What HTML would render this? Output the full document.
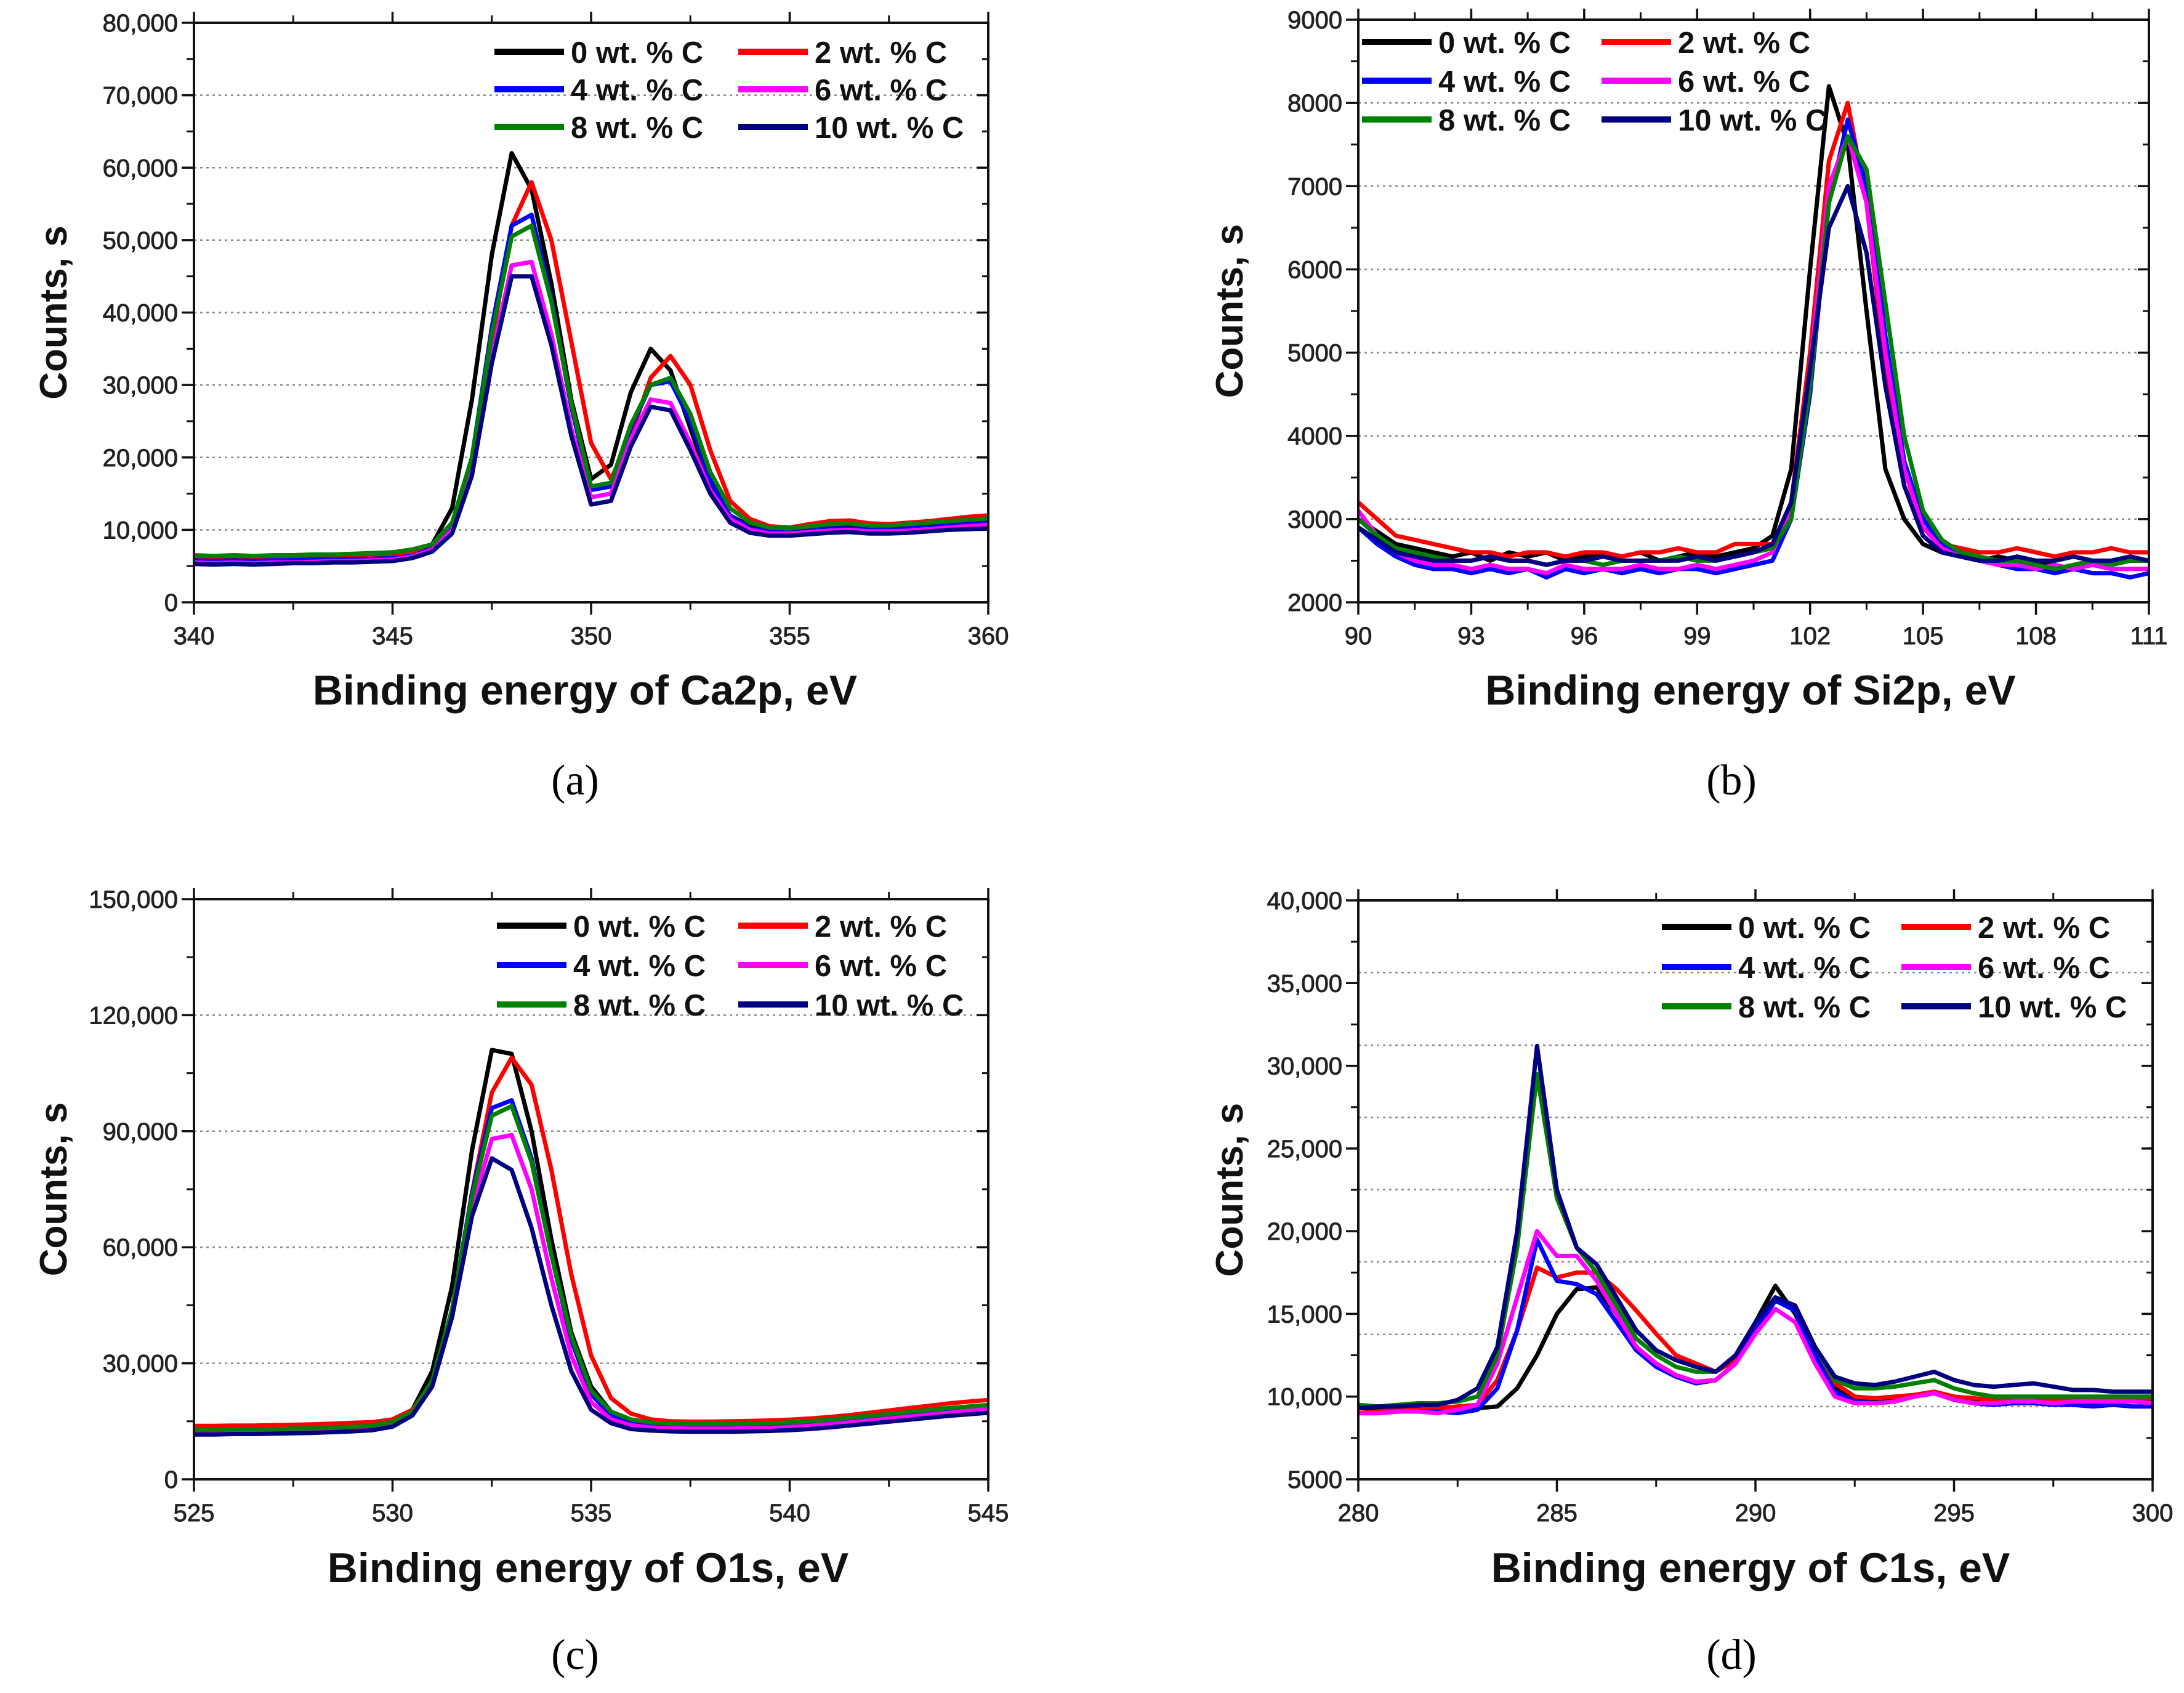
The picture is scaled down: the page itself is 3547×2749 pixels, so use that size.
<!DOCTYPE html>
<html><head><meta charset="utf-8">
<style>
html,body{margin:0;padding:0;background:#fff;}
svg{display:block;}
text{font-family:"Liberation Sans",Arial,sans-serif;}
.tick{font-size:40px;fill:#222;stroke:#222;stroke-width:0.9px;}
.ttl{font-size:68px;font-weight:bold;fill:#111;}
.ytl{font-size:62px;font-weight:bold;fill:#111;}
.leg{font-size:49px;font-weight:bold;fill:#111;}
.cap{font-family:"Liberation Serif",serif;font-size:70px;fill:#000;}
</style></head>
<body>
<svg id="fig" xmlns="http://www.w3.org/2000/svg" width="3547" height="2749" viewBox="0 0 3547 2749"></svg>
<script>
// ---------- DATA (counts in thousands) ----------
const seriesNames = ["0 wt. % C","2 wt. % C","4 wt. % C","6 wt. % C","8 wt. % C","10 wt. % C"];
const seriesKeys = ["c0","c2","c4","c6","c8","c10"];

const energyA = [340,340.5,341,341.5,342,342.5,343,343.5,344,344.5,345,345.5,346,346.5,347,347.5,348,348.5,349,349.5,350,350.5,351,351.5,352,352.5,353,353.5,354,354.5,355,355.5,356,356.5,357,357.5,358,358.5,359,359.5,360];
const caA_c0 = [5.6,5.5,5.6,5.5,5.6,5.7,5.6,5.8,5.9,6.0,6.1,6.6,8.0,13,28,48,62,57,44,28,17,19,29,35,32,24,16,12,10.5,10,10,10.2,10.4,10.5,10.3,10.4,10.5,10.7,10.9,11,11.2];
const caA_c2 = [6.2,6.1,6.1,6.0,6.1,6.1,6.2,6.3,6.3,6.4,6.5,6.8,7.5,10,19,36,52,58,50,36,22,17,23,31,34,30,21,14,11.5,10.5,10.3,10.8,11.2,11.3,10.9,10.8,11.0,11.2,11.5,11.8,12.0];
const caA_c4 = [5.8,5.7,5.8,5.7,5.8,5.8,5.9,5.9,6.0,6.0,6.1,6.4,7.5,10.5,20,38,52,53.5,42,27,15.5,16,24,30,30.5,25,17,12,10.2,9.8,9.8,10.0,10.2,10.2,10.1,10.1,10.2,10.4,10.6,10.8,11.0];
const caA_c6 = [5.5,5.4,5.5,5.4,5.5,5.5,5.6,5.7,5.7,5.8,5.9,6.3,7.3,10,18.5,34,46.5,47,37,24,14.5,15,22.5,28,27.5,22,15.5,11.5,10,9.5,9.5,9.7,9.9,10.0,9.8,9.8,9.9,10.1,10.3,10.5,10.7];
const caA_c8 = [6.5,6.4,6.5,6.4,6.5,6.5,6.6,6.6,6.7,6.8,6.9,7.3,8.0,11,20,37,50.5,52,41.5,27.5,16,16.5,24.5,30,31,26,18,13,11,10.3,10.2,10.5,10.8,10.9,10.6,10.6,10.8,11.0,11.2,11.4,11.6];
const caA_c10 = [5.3,5.2,5.3,5.2,5.3,5.4,5.4,5.5,5.5,5.6,5.7,6.1,7.0,9.5,17.5,33,45,45,35.5,23,13.5,14,21.5,27,26.5,21,15,11,9.6,9.2,9.2,9.4,9.6,9.7,9.5,9.5,9.6,9.8,10.0,10.1,10.2];

const energyB = [90,90.5,91,91.5,92,92.5,93,93.5,94,94.5,95,95.5,96,96.5,97,97.5,98,98.5,99,99.5,100,100.5,101,101.5,102,102.5,103,103.5,104,104.5,105,105.5,106,106.5,107,107.5,108,108.5,109,109.5,110,110.5,111];
const siB_c0 = [3.0,2.85,2.7,2.65,2.6,2.55,2.6,2.5,2.6,2.55,2.6,2.5,2.55,2.6,2.55,2.6,2.5,2.55,2.6,2.55,2.6,2.65,2.8,3.6,6.0,8.2,7.5,5.5,3.6,3.0,2.7,2.6,2.55,2.5,2.55,2.5,2.45,2.5,2.55,2.5,2.45,2.5,2.5];
const siB_c2 = [3.2,3.0,2.8,2.75,2.7,2.65,2.6,2.6,2.55,2.6,2.6,2.55,2.6,2.6,2.55,2.6,2.6,2.65,2.6,2.6,2.7,2.7,2.7,3.2,5.0,7.3,8.0,6.8,4.8,3.4,2.9,2.7,2.65,2.6,2.6,2.65,2.6,2.55,2.6,2.6,2.65,2.6,2.6];
const siB_c4 = [2.9,2.7,2.55,2.45,2.4,2.4,2.35,2.4,2.35,2.4,2.3,2.4,2.35,2.4,2.35,2.4,2.35,2.4,2.4,2.35,2.4,2.45,2.5,3.0,4.5,6.8,7.8,7.0,5.2,3.7,3.0,2.7,2.55,2.5,2.45,2.4,2.4,2.35,2.4,2.35,2.35,2.3,2.35];
const siB_c6 = [3.1,2.8,2.6,2.5,2.45,2.45,2.4,2.45,2.4,2.4,2.35,2.45,2.4,2.4,2.4,2.45,2.4,2.4,2.45,2.4,2.45,2.5,2.6,3.1,4.8,7.0,7.6,6.8,5.0,3.6,2.9,2.65,2.55,2.5,2.45,2.45,2.4,2.45,2.4,2.45,2.4,2.4,2.4];
const siB_c8 = [3.0,2.8,2.65,2.6,2.55,2.5,2.5,2.55,2.5,2.5,2.45,2.5,2.5,2.45,2.5,2.5,2.5,2.55,2.5,2.5,2.55,2.6,2.65,3.0,4.6,6.8,7.6,7.2,5.6,4.0,3.1,2.75,2.6,2.55,2.5,2.5,2.45,2.4,2.45,2.5,2.45,2.5,2.5];
const siB_c10 = [2.9,2.75,2.6,2.55,2.5,2.5,2.5,2.55,2.5,2.5,2.45,2.5,2.5,2.55,2.5,2.5,2.5,2.5,2.55,2.5,2.55,2.6,2.7,3.2,4.8,6.5,7.0,6.2,4.6,3.4,2.8,2.6,2.55,2.5,2.5,2.55,2.5,2.5,2.55,2.5,2.5,2.55,2.5];

const energyC = [525,525.5,526,526.5,527,527.5,528,528.5,529,529.5,530,530.5,531,531.5,532,532.5,533,533.5,534,534.5,535,535.5,536,536.5,537,537.5,538,538.5,539,539.5,540,540.5,541,541.5,542,542.5,543,543.5,544,544.5,545];
const oC_c0 = [13.0,13.0,13.1,13.1,13.2,13.3,13.4,13.6,13.8,14.0,14.8,18,28,50,85,111,110,90,62,38,24,17.5,15,14.2,14,13.8,13.8,13.8,13.9,14,14.2,14.5,14.9,15.3,15.8,16.3,16.8,17.3,17.8,18.2,18.5];
const oC_c2 = [13.8,13.8,13.9,13.9,14.0,14.1,14.2,14.4,14.6,14.8,15.5,18,25,43,74,100,109,102,80,53,32,21,17,15.5,15,14.9,14.9,15,15.1,15.2,15.4,15.7,16.1,16.6,17.2,17.8,18.4,19,19.6,20.1,20.5];
const oC_c4 = [12.2,12.2,12.3,12.3,12.4,12.5,12.6,12.8,13,13.3,14.2,17,25,44,74,96,98,83,58,36,22,16.5,14.5,13.8,13.5,13.4,13.4,13.4,13.5,13.6,13.8,14.1,14.5,15,15.5,16,16.5,17,17.5,18,18.5];
const oC_c6 = [12.0,12.0,12.1,12.1,12.2,12.3,12.4,12.6,12.8,13.1,14,16.8,24,42,70,88,89,75,52,32,20,15.5,14,13.4,13.2,13.1,13.1,13.1,13.2,13.3,13.5,13.8,14.2,14.7,15.2,15.7,16.2,16.7,17.2,17.7,18.2];
const oC_c8 = [12.8,12.8,12.9,12.9,13,13.1,13.2,13.4,13.6,13.9,14.8,17.5,25.5,44,73,94,96.5,82,58,37,23,17.5,15.5,14.7,14.4,14.3,14.3,14.3,14.4,14.5,14.7,15,15.4,15.9,16.4,16.9,17.4,17.9,18.4,18.8,19.2];
const oC_c10 = [11.6,11.6,11.7,11.7,11.8,11.9,12,12.2,12.4,12.7,13.6,16.5,24,42,68,83,80,65,45,28,18,14.5,13,12.6,12.4,12.3,12.3,12.3,12.4,12.5,12.7,13,13.4,13.9,14.4,14.9,15.4,15.9,16.4,16.8,17.2];

const energyD = [280,280.5,281,281.5,282,282.5,283,283.5,284,284.5,285,285.5,286,286.5,287,287.5,288,288.5,289,289.5,290,290.5,291,291.5,292,292.5,293,293.5,294,294.5,295,295.5,296,296.5,297,297.5,298,298.5,299,299.5,300];
const cD_c0 = [9.3,9.3,9.4,9.3,9.4,9.3,9.3,9.4,10.5,12.5,15,16.5,16.6,15,13,12,11.3,10.8,11,12,14.5,16.7,15,12.5,10.5,9.8,9.7,9.8,10,10.2,9.9,9.7,9.6,9.7,9.8,9.7,9.7,9.6,9.7,9.8,9.8];
const cD_c2 = [9.0,9.1,9.2,9.2,9.3,9.4,9.5,11,14,17.8,17.2,17.5,17.5,16.5,15.2,13.8,12.5,12,11.5,12.2,14,15.8,15.5,13,10.8,10,9.9,10,10.1,10.3,10,9.9,9.8,9.9,9.9,9.8,9.9,9.9,9.9,9.9,9.9];
const cD_c4 = [9.0,9.0,9.1,9.1,9.1,9.0,9.2,10.5,14,19.5,17,16.8,16.2,14.5,12.8,11.8,11.2,10.8,11,12,14,15.8,15.2,12.5,10.3,9.7,9.6,9.7,10,10.2,9.8,9.6,9.5,9.6,9.6,9.5,9.5,9.4,9.5,9.4,9.4];
const cD_c6 = [9.0,9.0,9.1,9.1,9.0,9.2,9.5,12,16,20,18.5,18.5,17,15,13,12,11.3,10.9,11,12,13.8,15.3,14.5,12,10,9.6,9.6,9.7,10,10.2,9.8,9.6,9.6,9.7,9.7,9.6,9.7,9.7,9.7,9.7,9.6];
const cD_c8 = [9.5,9.4,9.5,9.6,9.6,9.7,10,12.5,19,29.5,22,19,17.5,15.5,13.5,12.5,11.8,11.5,11.5,12.5,14.5,16,15.5,13,11,10.5,10.5,10.6,10.8,11,10.5,10.2,10,10,10,10,10,10,10,10,10];
const cD_c10 = [9.3,9.4,9.4,9.5,9.5,9.8,10.5,13,20,31.2,22.5,19,18,16,14,12.8,12.2,11.8,11.5,12.5,14.5,16,15.5,13,11.2,10.8,10.7,10.9,11.2,11.5,11,10.7,10.6,10.7,10.8,10.6,10.4,10.4,10.3,10.3,10.3];

// tick values & labels
const xTicksA = [340,345,350,355,360];
const yTicksA = [0,10000,20000,30000,40000,50000,60000,70000,80000];
const yLabelsA = ["0","10,000","20,000","30,000","40,000","50,000","60,000","70,000","80,000"];
const gridA = [10000,20000,30000,40000,50000,60000,70000];
const xTicksB = [90,93,96,99,102,105,108,111];
const yTicksB = [2000,3000,4000,5000,6000,7000,8000,9000];
const yLabelsB = ["2000","3000","4000","5000","6000","7000","8000","9000"];
const gridB = [3000,4000,5000,6000,7000,8000];
const xTicksC = [525,530,535,540,545];
const yTicksC = [0,30000,60000,90000,120000,150000];
const yLabelsC = ["0","30,000","60,000","90,000","120,000","150,000"];
const gridC = [30000,60000,90000,120000];
const xTicksD = [280,285,290,295,300];
const yTicksD = [5000,10000,15000,20000,25000,30000,35000,40000];
const yLabelsD = ["5000","10,000","15,000","20,000","25,000","30,000","35,000","40,000"];
const gridD = [9396,13759,18154,22517,26880,31242,35637];

// ---------- LAYOUT ----------
const colors = ["#000000","#ff0000","#0000ff","#ff00ff","#008000","#000080"];
const panels = [
 {id:"a",L:315,R:1605,T:37,B:978,xmin:340,xmax:360,xminor:2.5,ymin:0,ymax:80000,yminor:5000,
  xs:energyA,ys:[caA_c0,caA_c2,caA_c4,caA_c6,caA_c8,caA_c10],xt:xTicksA,yt:yTicksA,yl:yLabelsA,grid:gridA,
  title:"Binding energy of Ca2p, eV",tx:950,ty:1144,cap:"(a)",cx:934,cy:1290,yx:86,
  leg:{c1:803,c2:1199,rows:[84,145,206]}},
 {id:"b",L:2206,R:3490,T:32,B:978,xmin:90,xmax:111,xminor:1.5,ymin:2000,ymax:9000,yminor:500,
  xs:energyB,ys:[siB_c0,siB_c2,siB_c4,siB_c6,siB_c8,siB_c10],xt:xTicksB,yt:yTicksB,yl:yLabelsB,grid:gridB,
  title:"Binding energy of Si2p, eV",tx:2843,ty:1144,cap:"(b)",cx:2812,cy:1290,yx:1996,
  leg:{c1:2212,c2:2601,rows:[68,131,194]}},
 {id:"c",L:315,R:1605,T:1460,B:2402,xmin:525,xmax:545,xminor:2.5,ymin:0,ymax:150000,yminor:15000,
  xs:energyC,ys:[oC_c0,oC_c2,oC_c4,oC_c6,oC_c8,oC_c10],xt:xTicksC,yt:yTicksC,yl:yLabelsC,grid:gridC,
  title:"Binding energy of O1s, eV",tx:955,ty:2569,cap:"(c)",cx:934,cy:2710,yx:86,
  leg:{c1:807,c2:1199,rows:[1503,1567,1631]}},
 {id:"d",L:2206,R:3496,T:1462,B:2402,xmin:280,xmax:300,xminor:2.5,ymin:5000,ymax:40000,yminor:2500,
  xs:energyD,ys:[cD_c0,cD_c2,cD_c4,cD_c6,cD_c8,cD_c10],xt:xTicksD,yt:yTicksD,yl:yLabelsD,grid:gridD,
  title:"Binding energy of C1s, eV",tx:2843,ty:2569,cap:"(d)",cx:2812,cy:2710,yx:1996,
  leg:{c1:2699,c2:3088,rows:[1505,1570,1634]}}
];

const NS="http://www.w3.org/2000/svg";
const svg=document.getElementById("fig");
function mk(tag,attrs,parent,txt){
  const e=document.createElementNS(NS,tag);
  for(const k in attrs) e.setAttribute(k,attrs[k]);
  if(txt!==undefined) e.textContent=txt;
  (parent||svg).appendChild(e); return e;
}

panels.forEach(p=>{
  const g=mk("g",{});
  
  
  const X=v=>p.L+(v-p.xmin)/(p.xmax-p.xmin)*(p.R-p.L);
  const Y=v=>p.B-(v-p.ymin)/(p.ymax-p.ymin)*(p.B-p.T);
  p.grid.forEach(v=>{
    const l=mk("line",{x1:p.L,x2:p.R,y1:Y(v),y2:Y(v),stroke:"#888","stroke-width":2.5,"stroke-dasharray":"4 6"},g);
    
    
  });
  for(let v=p.xmin;v<=p.xmax+1e-9;v+=p.xminor){
    mk("line",{x1:X(v),x2:X(v),y1:p.B,y2:p.B+12,stroke:"#111","stroke-width":3},g);
    mk("line",{x1:X(v),x2:X(v),y1:p.T,y2:p.T-12,stroke:"#111","stroke-width":3},g);
  }
  for(let v=p.ymin;v<=p.ymax+1e-9;v+=p.yminor){
    mk("line",{x1:p.L,x2:p.L-12,y1:Y(v),y2:Y(v),stroke:"#111","stroke-width":3},g);
    mk("line",{x1:p.R,x2:p.R-10,y1:Y(v),y2:Y(v),stroke:"#111","stroke-width":3},g);
  }
  p.xt.forEach(v=>{
    mk("line",{x1:X(v),x2:X(v),y1:p.B,y2:p.B+20,stroke:"#111","stroke-width":3.5},g);
    mk("line",{x1:X(v),x2:X(v),y1:p.T,y2:p.T-18,stroke:"#111","stroke-width":3.5},g);
    const t=mk("text",{x:X(v),y:p.B+68,"text-anchor":"middle",class:"tick"},g,String(v));
    
    
  });
  p.yt.forEach((v,i)=>{
    mk("line",{x1:p.L,x2:p.L-20,y1:Y(v),y2:Y(v),stroke:"#111","stroke-width":3.5},g);
    mk("line",{x1:p.R,x2:p.R-18,y1:Y(v),y2:Y(v),stroke:"#111","stroke-width":3.5},g);
    const t=mk("text",{x:p.L-26,y:Y(v)+14,"text-anchor":"end",class:"tick"},g,p.yl[i]);
    
    
  });
  p.ys.forEach((arr,si)=>{
    const d=arr.map((v,i)=>(i?"L":"M")+X(p.xs[i]).toFixed(1)+" "+Y(v*1000).toFixed(1)).join(" ");
    const path=mk("path",{d:d,fill:"none",stroke:colors[si],"stroke-width":7,"stroke-linejoin":"round"},g);
    
    
  });
  const fr=mk("rect",{x:p.L,y:p.T,width:p.R-p.L,height:p.B-p.T,fill:"none",stroke:"#111","stroke-width":4},g);
  
  
  seriesNames.forEach((n,si)=>{
    const col=si%2, row=Math.floor(si/2);
    const x0=col?p.leg.c2:p.leg.c1, y0=p.leg.rows[row];
    const lg=mk("g",{},g);
    
    
    mk("line",{x1:x0,x2:x0+113,y1:y0,y2:y0,stroke:colors[si],"stroke-width":10},lg);
    mk("text",{x:x0+124,y:y0+18,class:"leg"},lg,n);
  });
  const xt=mk("text",{x:p.tx,y:p.ty,"text-anchor":"middle",class:"ttl"},g,p.title);
  
  
  const cy=(p.T+p.B)/2;
  const yt=mk("text",{x:p.yx,y:cy,"text-anchor":"middle",class:"ytl",transform:"rotate(-90 "+p.yx+" "+cy+")",dy:"22"},g,"Counts, s");
  
  
  const cp=mk("text",{x:p.cx,y:p.cy,"text-anchor":"middle",class:"cap"},g,p.cap);
  
  
});
</script>
</body></html>
